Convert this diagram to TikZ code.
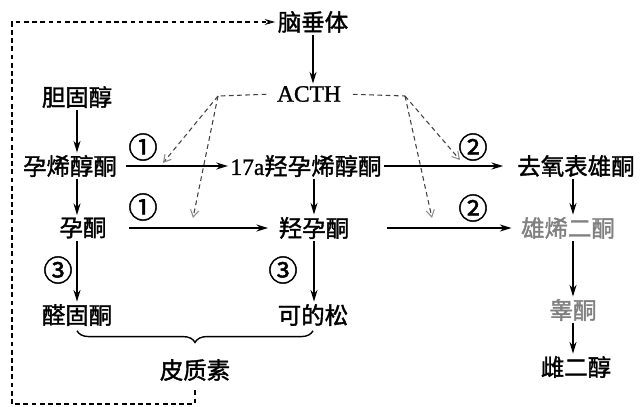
\documentclass[tikz,border=0pt]{standalone}
\usepackage{fontspec}
\setmainfont{Liberation Serif}
\newfontfamily\cjk{Noto Sans CJK SC}[FakeBold=1.6]
\newfontfamily\lat{Liberation Serif}[FakeBold=1.2]
\usepackage{tikz}
\usetikzlibrary{arrows.meta}
\usetikzlibrary{decorations.pathreplacing}
\tikzset{chem/.style={font=\fontsize{20}{24}\selectfont\cjk, inner sep=2pt}}
\tikzset{faint/.style={chem, text=black!50}}
\tikzset{enz/.style={font=\fontsize{25}{26}\selectfont\cjk, inner sep=0pt}}
\tikzset{path/.style={line width=1.2pt, -{Stealth[length=10pt,width=6pt]}}}
\tikzset{ctrl/.style={draw=black!75, line width=0.9pt, dash pattern=on 4pt off 3pt}}
\tikzset{ctrl arrow/.style={ctrl, -{Straight Barb[length=6pt,width=7pt,color=black!45]}}}
\tikzset{loop/.style={line width=0.9pt, dash pattern=on 4pt off 3pt}}

\begin{document}
\begin{tikzpicture}[x=0.03cm, y=-0.03cm]
    \useasboundingbox (0,0) rectangle (641,406);
    \node[chem] (pit) at (313,22) {脑垂体};
    \node[chem] (acth) at (309,94) {\lat ACTH};
    \node[chem] (chol) at (77,97) {胆固醇};
    \node[chem] (pre) at (70,166) {孕烯醇酮};
    \node[chem] (hpre) at (306,166) {{\lat 17a}羟孕烯醇酮};
    \node[chem] (dhea) at (576,166) {去氧表雄酮};
    \node[chem] (prog) at (83,228) {孕酮};
    \node[chem] (hprog) at (314,228) {羟孕酮};
    \node[faint] (andr) at (568,228) {雄烯二酮};
    \node[chem] (ald) at (77,315) {醛固酮};
    \node[chem] (cor) at (313,315) {可的松};
    \node[faint] (test) at (573,310) {睾酮};
    \node[chem] (estr) at (576,367) {雌二醇};
    \node[chem] (cort) at (195,370) {皮质素};

    \node[enz] (e1a) at (143,147) {①};
    \node[enz] (e1b) at (143,207) {①};
    \node[enz] (e2a) at (473,147) {②};
    \node[enz] (e2b) at (473,208) {②};
    \node[enz] (e3a) at (58,270) {③};
    \node[enz] (e3b) at (283,270) {③};

    \draw[path] (pit.south) -- (pit.south |- acth.north);
    \draw[path] (chol.south) -- (chol.south |- pre.north);
    \draw[path] (pre.south -| chol.south) -- (prog.north -| chol.south);
    \draw[path] (prog.south -| ald.north) -- (ald.north);
    \draw[path] (hpre.south -| hprog.north) -- (hprog.north);
    \draw[path] (hprog.south) -- (hprog.south |- cor.north);
    \draw[path] (dhea.south -| test.north) -- (andr.north -| test.north);
    \draw[path] (andr.south -| test.north) -- (test.north);
    \draw[path] (test.south) -- (test.south |- estr.north);

    \draw[path, shorten <=6pt] (pre.east) -- (hpre.west);
    \draw[path, shorten <=17pt, shorten >=7pt] (prog.east) -- (hprog.west);
    \draw[path, shorten >=10pt] (hpre.east) -- (dhea.west);
    \draw[path, shorten <=30pt, shorten >=6pt] (hprog.east) -- (andr.west);

    \coordinate (ml) at (218,96);
    \coordinate (mr) at (405,96);
    \coordinate (t1) at (163,163);
    \coordinate (t2) at (193,218);
    \coordinate (t3) at (460,160);
    \coordinate (t4) at (432,218);
    \draw[ctrl, shorten <=7pt] (acth.west) -- (ml);
    \draw[ctrl, shorten <=8pt] (acth.east) -- (mr);
    \draw[ctrl arrow] (ml) -- (t1);
    \draw[ctrl arrow] (ml) -- (t2);
    \draw[ctrl arrow] (mr) -- (t3);
    \draw[ctrl arrow] (mr) -- (t4);

    \draw[decorate, decoration={brace, mirror, amplitude=10pt, raise=2pt}, line width=1.2pt] (ald.south) -- (cor.south);

    \coordinate (fb) at (12,404);
    \draw[loop, -{Stealth[length=9pt,width=5pt,open]}, shorten <=6pt] (cort.south) |- (fb) |- (pit.west);
\end{tikzpicture}
\end{document}
